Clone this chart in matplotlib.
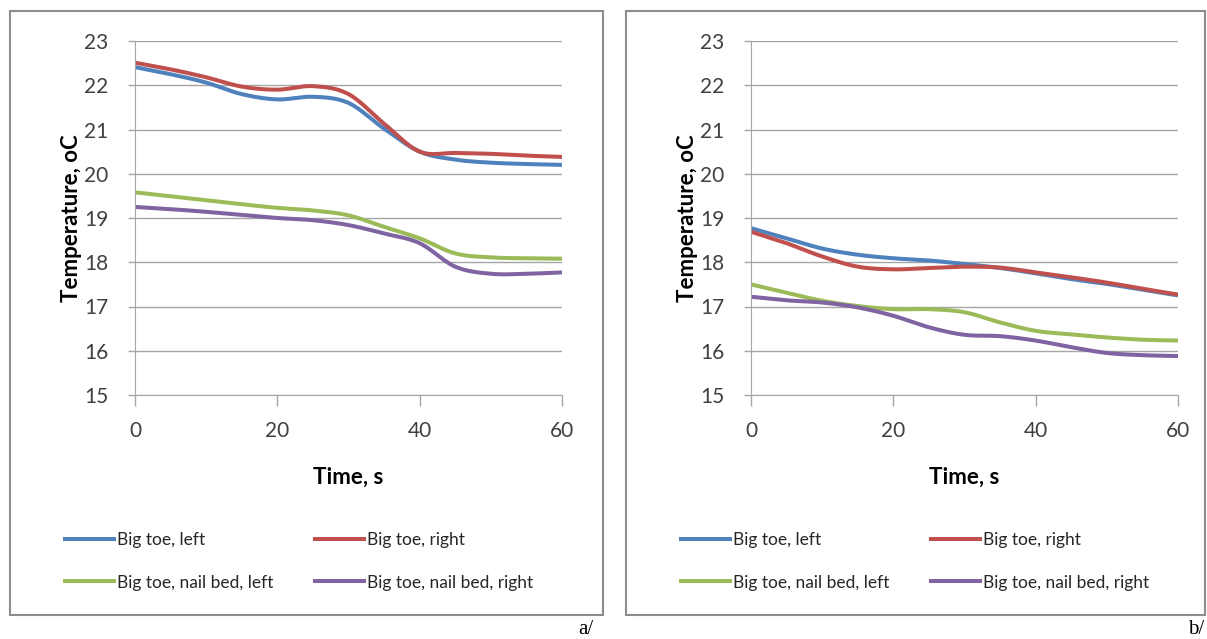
import matplotlib
matplotlib.use("Agg")
import numpy as np
import matplotlib.pyplot as plt
from matplotlib.patches import Rectangle

# time, s
t = [0, 5, 10, 15, 20, 25, 30, 35, 40, 45, 50, 55, 60]

# a/
a_toe_left = [22.41, 22.25, 22.06, 21.8, 21.68, 21.74, 21.6, 21.02, 20.5, 20.32, 20.25, 20.22, 20.2]
a_toe_right = [22.51, 22.36, 22.18, 21.97, 21.9, 21.98, 21.8, 21.13, 20.5, 20.47, 20.45, 20.41, 20.38]
a_nail_left = [19.58, 19.49, 19.4, 19.31, 19.23, 19.17, 19.06, 18.8, 18.54, 18.2, 18.11, 18.09, 18.08]
a_nail_right = [19.25, 19.2, 19.14, 19.07, 19.0, 18.95, 18.84, 18.65, 18.43, 17.9, 17.74, 17.74, 17.77]

# b/
b_toe_left = [18.77, 18.54, 18.31, 18.17, 18.09, 18.04, 17.96, 17.87, 17.75, 17.62, 17.51, 17.38, 17.25]
b_toe_right = [18.69, 18.43, 18.13, 17.9, 17.84, 17.87, 17.9, 17.88, 17.77, 17.66, 17.54, 17.4, 17.27]
b_nail_left = [17.5, 17.31, 17.13, 17.01, 16.94, 16.94, 16.87, 16.64, 16.45, 16.37, 16.3, 16.25, 16.23]
b_nail_right = [17.22, 17.14, 17.09, 16.98, 16.79, 16.53, 16.36, 16.33, 16.23, 16.08, 15.95, 15.9, 15.88]

labels = ["Big toe, left", "Big toe, right", "Big toe, nail bed, left", "Big toe, nail bed, right"]
colors = ["#4F81BD", "#C0504D", "#9BBB59", "#8064A2"]
yticks = [15, 16, 17, 18, 19, 20, 21, 22, 23]
xticks = [0, 20, 40, 60]

plt.rcParams['font.family'] = ['Lato', 'DejaVu Sans']

fig = plt.figure(figsize=(12.07, 6.39), dpi=100)
W, H = 1207.0, 639.0


def smooth(x, y, n=16):
    # smoothed line like the spreadsheet one (Catmull-Rom through the points)
    x = np.asarray(x, float)
    y = np.asarray(y, float)
    px = np.concatenate([[2 * x[0] - x[1]], x, [2 * x[-1] - x[-2]]])
    py = np.concatenate([[2 * y[0] - y[1]], y, [2 * y[-1] - y[-2]]])
    u = np.linspace(0, 1, n, endpoint=False)
    xs, ys = [], []
    for i in range(1, len(px) - 2):
        for p, out in ((px, xs), (py, ys)):
            p0, p1, p2, p3 = p[i - 1], p[i], p[i + 1], p[i + 2]
            out.extend(0.5 * (2 * p1 + (p2 - p0) * u + (2 * p0 - 5 * p1 + 4 * p2 - p3) * u ** 2
                              + (3 * p1 - p0 - 3 * p2 + p3) * u ** 3))
    xs.append(x[-1])
    ys.append(y[-1])
    return xs, ys


def panel(x0, series, tag, tag_x, box):
    # frame round the panel
    fig.patches.append(Rectangle((box[0] / W, 1 - box[3] / H), (box[2] - box[0]) / W, (box[3] - box[1]) / H,
                                 transform=fig.transFigure, fill=False, edgecolor="#8c8c8c", lw=1.5))
    ax = fig.add_axes([x0 / W, 1 - 395 / H, 427 / W, 354 / H])
    handles = []
    for s, c, lab in zip(series, colors, labels):
        xs, ys = smooth(t, s)
        h, = ax.plot(xs, ys, color=c, lw=2.9, label=lab, solid_capstyle="butt")
        handles.append(h)
    ax.set_xlim(0, 60)
    ax.set_ylim(15, 23)
    ax.set_xticks(xticks)
    ax.set_yticks(yticks)
    ax.grid(axis="y", color="#a6a6a6", lw=1)
    ax.set_axisbelow(True)
    for sp in ["top", "right"]:
        ax.spines[sp].set_visible(False)
    ax.spines["left"].set_color("#a6a6a6")
    ax.spines["bottom"].set_color("#a6a6a6")
    ax.tick_params(axis="both", colors="#a6a6a6", labelcolor="#404040", labelsize=15, width=1)
    ax.tick_params(axis="x", length=8, pad=11)
    ax.tick_params(axis="y", length=5, pad=14)
    ax.set_xlabel("Time, s", fontsize=16, fontweight="bold", labelpad=18)
    ax.set_ylabel("Temperature, oC", fontsize=16, fontweight="bold", labelpad=2)
    fs = 12.5
    hl = 53 / (fs * 100 / 72)
    prop = {"family": ["Lato"], "weight": "normal", "size": fs}
    # two legend columns, one legend each (the last one stays as ax.legend_)
    for k, dx in enumerate((-72, 178)):
        leg = ax.legend(handles[k::2], labels[k::2], loc="center left",
                        bbox_to_anchor=((x0 + dx) / W, 1 - 561.5 / H), bbox_transform=fig.transFigure,
                        frameon=False, prop=prop, handlelength=hl, handletextpad=0.05,
                        labelspacing=1.5, borderpad=0, borderaxespad=0)
        for txt in leg.get_texts():
            txt.set_color("#262626")
        if k == 0:
            ax.add_artist(leg)
    fig.text(tag_x / W, 1 - 629 / H, tag, fontsize=15, family="Liberation Serif", ha="center", va="center")
    return ax


panel(135, [a_toe_left, a_toe_right, a_nail_left, a_nail_right], "a/", 586, (10, 11, 603, 615))
panel(751, [b_toe_left, b_toe_right, b_nail_left, b_nail_right], "b/", 1196, (626, 11, 1205, 615))

fig.savefig("out.png", dpi=100)
